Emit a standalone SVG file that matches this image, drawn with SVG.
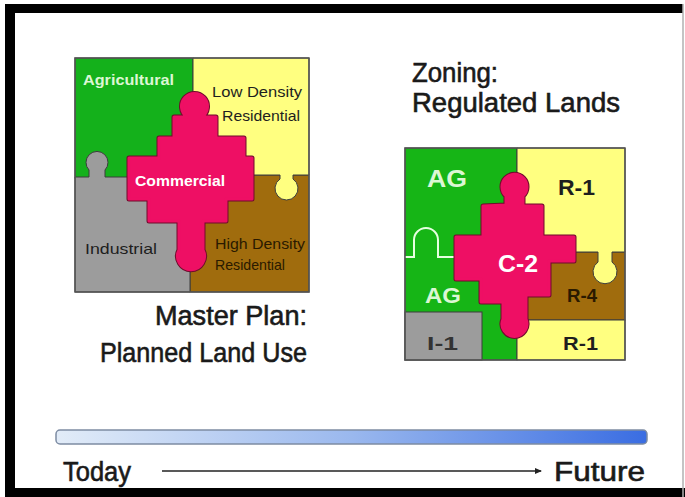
<svg xmlns="http://www.w3.org/2000/svg" width="685" height="497" viewBox="0 0 685 497">
<defs>
<style>
.t{font-family:"Liberation Sans",Arial,sans-serif}
.rg{stroke:#3c3c3c;stroke-width:1}
.g{fill:#14b11b}
.y{fill:#ffff80}
.b{fill:#a06c0d}
.gr{fill:#9c9c9c}
.pk1{fill:#6e0c2b;stroke:#6e0c2b;stroke-width:5;stroke-linejoin:round}
.pk2{fill:#ee0f64;stroke:#ee0f64;stroke-width:3;stroke-linejoin:round}
.lt{fill:#dcf7d4;font-weight:bold}
.dk{fill:#1e1e1e}
.big{font-size:27px;fill:#1a1a1a;stroke:#1a1a1a;stroke-width:0.6}
</style>
<linearGradient id="bar" x1="0" y1="0" x2="1" y2="0">
<stop offset="0" stop-color="#e2ecf8"/>
<stop offset="0.5" stop-color="#9ab8ee"/>
<stop offset="1" stop-color="#3a6de2"/>
</linearGradient>
<marker id="ah" markerWidth="8" markerHeight="8" refX="6" refY="4" orient="auto" markerUnits="userSpaceOnUse">
<path d="M0,1 L7,4 L0,7 Z" fill="#222"/>
</marker>
</defs>
<rect width="685" height="497" fill="#ffffff"/>
<!-- frame -->
<rect x="5" y="4" width="678" height="9" fill="#000"/>
<rect x="5" y="4" width="10" height="493" fill="#000"/>
<rect x="5" y="488" width="680" height="9" fill="#000"/>
<line x1="683" y1="4" x2="683" y2="497" stroke="#b0b0b0" stroke-width="1.5"/>

<!-- Left puzzle: master plan -->
<g id="master-plan">
<rect x="75" y="58" width="118" height="120" class="g rg"/>
<rect x="190" y="175" width="119" height="117" class="b rg"/>
<path d="M193 58 L309 58 L309 175 L293 175 L293 179 A11.5 11.5 0 1 1 280 179 L280 175 L193 175 Z" class="y rg"/>
<path d="M75 177 L89 177 L89 170 A11 11 0 1 1 105 170 L105 177 L190 177 L190 292 L75 292 Z" class="gr rg"/>
<path class="pk1" d="M187 117 A13 13 0 1 1 202 117 L216 117 L216 138 L244 138 L244 158 L252 158 L252 199 L226 199 L226 221 L203 221 L203 250 A13.5 13.5 0 1 1 179 250 L179 221 L149 221 L149 199 L129 199 L129 158 L159 158 L159 138 L174 138 L174 117 Z"/>
<path class="pk2" d="M187 117 A13 13 0 1 1 202 117 L216 117 L216 138 L244 138 L244 158 L252 158 L252 199 L226 199 L226 221 L203 221 L203 250 A13.5 13.5 0 1 1 179 250 L179 221 L149 221 L149 199 L129 199 L129 158 L159 158 L159 138 L174 138 L174 117 Z"/>
<rect x="75" y="58" width="234" height="234" fill="none" stroke="#555" stroke-width="1.5"/>
<text class="t lt" x="83" y="85" font-size="14" textLength="91" lengthAdjust="spacingAndGlyphs">Agricultural</text>
<text class="t dk" x="212" y="97" font-size="15" textLength="90" lengthAdjust="spacingAndGlyphs">Low Density</text>
<text class="t dk" x="222" y="121" font-size="15" textLength="78" lengthAdjust="spacingAndGlyphs">Residential</text>
<text class="t" x="135" y="186" font-size="15" font-weight="bold" fill="#fff" textLength="90" lengthAdjust="spacingAndGlyphs">Commercial</text>
<text class="t dk" x="85" y="254" font-size="15" textLength="72" lengthAdjust="spacingAndGlyphs">Industrial</text>
<text class="t" x="215" y="249" font-size="15" fill="#2a1a00" textLength="90" lengthAdjust="spacingAndGlyphs">High Density</text>
<text class="t" x="215" y="270" font-size="15" fill="#2a1a00" textLength="70" lengthAdjust="spacingAndGlyphs">Residential</text>
</g>
<g id="master-plan-title">
<text class="t big" x="155" y="325" textLength="152" lengthAdjust="spacingAndGlyphs">Master Plan:</text>
<text class="t big" x="100" y="362" textLength="207" lengthAdjust="spacingAndGlyphs">Planned Land Use</text>
</g>

<!-- Right puzzle: zoning -->
<g id="zoning-title">
<text class="t big" x="412" y="82" textLength="86" lengthAdjust="spacingAndGlyphs">Zoning:</text>
<text class="t big" x="412" y="112" textLength="208" lengthAdjust="spacingAndGlyphs">Regulated Lands</text>
</g>
<g id="zoning">
<rect x="405" y="148" width="112" height="212" fill="#16b516" class="rg"/>
<rect x="517" y="252" width="108" height="68" class="b rg"/>
<path d="M517 148 L625 148 L625 252 L612 252 L612 262 A12 12 0 1 1 598 262 L598 252 L517 252 Z" class="y rg"/>
<rect x="517" y="320" width="108" height="40" class="y rg"/>
<rect x="405" y="312" width="77" height="48" class="gr rg"/>
<path d="M405 257 L414 257 L414 240 A12 12 0 0 1 438 240 L438 257 L456 257" fill="none" stroke="#e6ffe0" stroke-width="2"/>
<path class="pk1" d="M506 205 L506 196 A12.5 12.5 0 1 1 523 196 L523 206 L542 206 L542 237 L574 237 L574 261 L549 261 L549 295 L526 295 L526 319 A12.5 12.5 0 1 1 503 319 L503 302 L481 302 L481 279 L456 279 L456 237 L483 237 L483 206 Z"/>
<path class="pk2" d="M506 205 L506 196 A12.5 12.5 0 1 1 523 196 L523 206 L542 206 L542 237 L574 237 L574 261 L549 261 L549 295 L526 295 L526 319 A12.5 12.5 0 1 1 503 319 L503 302 L481 302 L481 279 L456 279 L456 237 L483 237 L483 206 Z"/>
<rect x="405" y="148" width="220" height="212" fill="none" stroke="#555" stroke-width="1.5"/>
<text class="t lt" x="427" y="187" font-size="23" textLength="40" lengthAdjust="spacingAndGlyphs">AG</text>
<text class="t lt" x="425" y="303" font-size="22" textLength="36" lengthAdjust="spacingAndGlyphs">AG</text>
<text class="t" x="498" y="272" font-size="23" font-weight="bold" fill="#fff" textLength="40" lengthAdjust="spacingAndGlyphs">C-2</text>
<text class="t" x="558" y="195" font-size="22" font-weight="bold" fill="#1e1e1e" textLength="37" lengthAdjust="spacingAndGlyphs">R-1</text>
<text class="t" x="567" y="302" font-size="19" font-weight="bold" fill="#2a1a00" textLength="30" lengthAdjust="spacingAndGlyphs">R-4</text>
<text class="t" x="563" y="350" font-size="19" font-weight="bold" fill="#1e1e1e" textLength="35" lengthAdjust="spacingAndGlyphs">R-1</text>
<text class="t" x="427" y="350" font-size="19" font-weight="bold" fill="#333" textLength="31" lengthAdjust="spacingAndGlyphs">I-1</text>
</g>

<!-- Timeline -->
<g id="timeline-bar">
<rect x="56" y="430" width="591" height="14" rx="4" fill="url(#bar)" stroke="#7d8ca3" stroke-width="1.5"/>
</g>
<g id="today"><text class="t big" x="63" y="481" font-size="28" textLength="68" lengthAdjust="spacingAndGlyphs">Today</text></g>
<g id="future"><text class="t big" x="554" y="481" font-size="28" textLength="91" lengthAdjust="spacingAndGlyphs">Future</text></g>
<g id="connectors">
<line x1="162" y1="471" x2="541" y2="471" stroke="#222" stroke-width="1.5" marker-end="url(#ah)"/>
</g>
</svg>
